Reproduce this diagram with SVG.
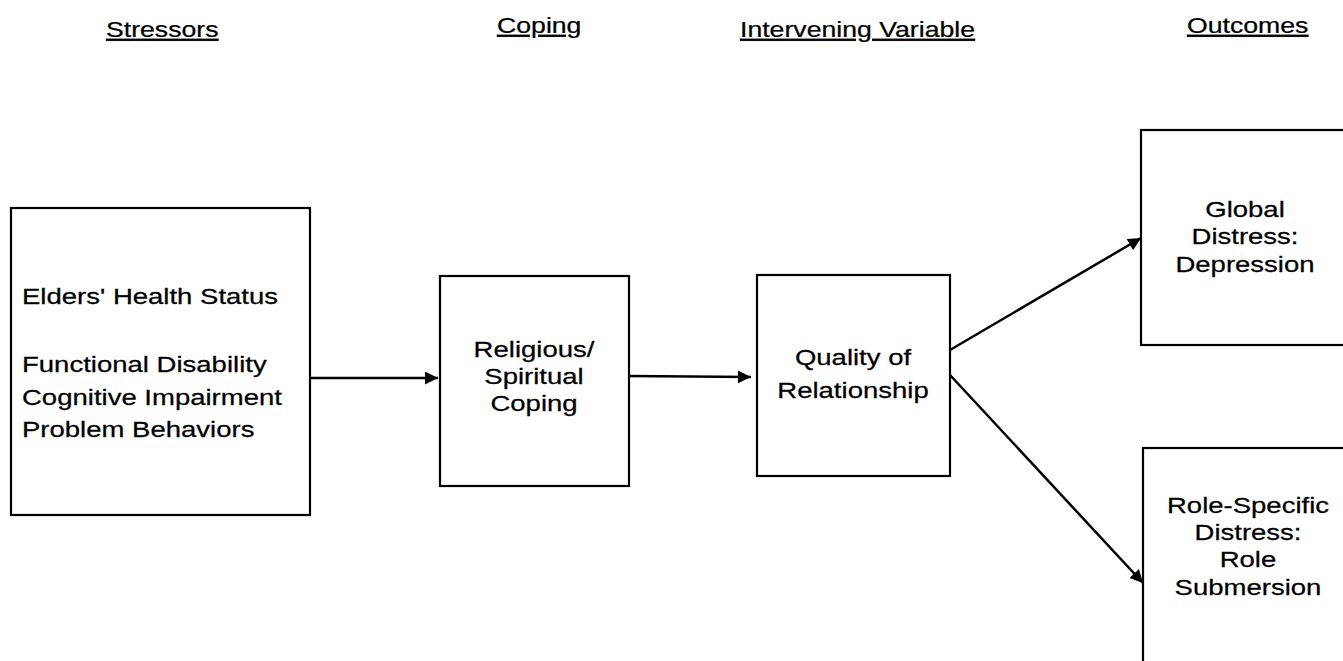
<svg xmlns="http://www.w3.org/2000/svg" width="1343" height="661" viewBox="0 0 1343 661">
<style>
.t{font-family:"Liberation Sans",Arial,sans-serif;font-size:21.5px;fill:#000;stroke:#000;stroke-width:0.25}
.m{text-anchor:middle}
.h{text-decoration:underline}
.box{fill:#fff;stroke:#000;stroke-width:2.2}
.c{stroke:#000;stroke-width:2.5;fill:none;marker-end:url(#ah)}
</style>
<defs>
<marker id="ah" markerUnits="userSpaceOnUse" markerWidth="16" markerHeight="14" refX="13" refY="6.5" orient="auto">
<path d="M0,0 L13,6.5 L0,13 z" fill="#000"/>
</marker>
</defs>
<rect width="1343" height="661" fill="#fff"/>
<g id="headers">
<text class="t h" transform="translate(106,37) scale(1.24,1)">Stressors</text>
<text class="t h" transform="translate(497,33) scale(1.24,1)">Coping</text>
<text class="t h" transform="translate(740,37) scale(1.24,1)">Intervening Variable</text>
<text class="t h" transform="translate(1187,33) scale(1.24,1)">Outcomes</text>
</g>
<g id="connectors">
<line class="c" x1="310" y1="378" x2="438" y2="378"/>
<line class="c" x1="629" y1="376" x2="751" y2="377"/>
<line class="c" x1="950" y1="350" x2="1141" y2="238"/>
<line class="c" x1="950" y1="375" x2="1143" y2="583"/>
</g>
<g id="stressors">
<rect class="box" x="11" y="208" width="299" height="307"/>
<text class="t" transform="translate(22,304) scale(1.28,1)">Elders' Health Status</text>
<text class="t" transform="translate(22,372) scale(1.28,1)">Functional Disability</text>
<text class="t" transform="translate(22,404.5) scale(1.28,1)">Cognitive Impairment</text>
<text class="t" transform="translate(22,437) scale(1.28,1)">Problem Behaviors</text>
</g>
<g id="coping">
<rect class="box" x="440" y="276" width="189" height="210"/>
<text class="t m" transform="translate(534,357) scale(1.28,1)">Religious/</text>
<text class="t m" transform="translate(534,384) scale(1.28,1)">Spiritual</text>
<text class="t m" transform="translate(534,411) scale(1.28,1)">Coping</text>
</g>
<g id="quality">
<rect class="box" x="757" y="275" width="193" height="201"/>
<text class="t m" transform="translate(853,365) scale(1.28,1)">Quality of</text>
<text class="t m" transform="translate(853,398) scale(1.28,1)">Relationship</text>
</g>
<g id="global">
<rect class="box" x="1141" y="130" width="210" height="215"/>
<text class="t m" transform="translate(1245,217) scale(1.28,1)">Global</text>
<text class="t m" transform="translate(1245,244) scale(1.28,1)">Distress:</text>
<text class="t m" transform="translate(1245,272) scale(1.28,1)">Depression</text>
</g>
<g id="role">
<rect class="box" x="1143" y="448" width="210" height="230"/>
<text class="t m" transform="translate(1248,513) scale(1.28,1)">Role-Specific</text>
<text class="t m" transform="translate(1248,540) scale(1.28,1)">Distress:</text>
<text class="t m" transform="translate(1248,567) scale(1.28,1)">Role</text>
<text class="t m" transform="translate(1248,595) scale(1.28,1)">Submersion</text>
</g>
</svg>
